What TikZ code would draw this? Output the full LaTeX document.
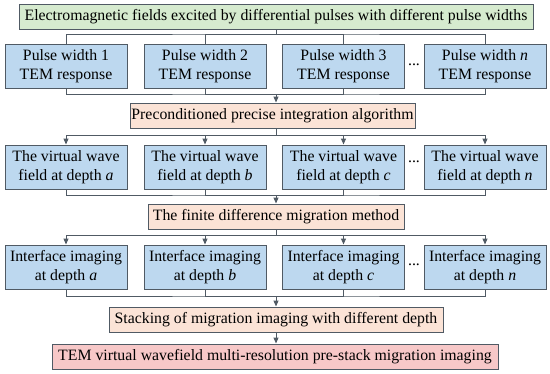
\documentclass[tikz,border=0pt]{standalone}
\usepackage{fontspec}
\setmainfont{Liberation Serif}
\usetikzlibrary{arrows.meta}
\definecolor{cgreen}{HTML}{D6EBCF}
\definecolor{cblue}{HTML}{BDD8EF}
\definecolor{cpink}{HTML}{FBE3D6}
\definecolor{cred}{HTML}{F7C8C8}
\definecolor{cline}{HTML}{505A64}
\begin{document}
\begin{tikzpicture}[x=1pt,y=-1pt,
  base/.style={draw=cline,line width=1pt,inner sep=0pt,align=center,
    font=\fontsize{15.8}{19}\selectfont,text=black},
  greenbox/.style={base,fill=cgreen,minimum width=514pt,minimum height=25pt},
  bluebox/.style={base,fill=cblue,minimum width=122pt,minimum height=44pt},
  pinkbox/.style={base,fill=cpink,minimum height=25pt},
  redbox/.style={base,fill=cred,minimum height=25pt},
  dotsnode/.style={inner sep=0pt,font=\fontsize{15.8}{19}\selectfont},
  conn/.style={draw=cline,line width=1pt},
  arr/.style={conn,-{Triangle[length=6pt,width=5pt]}}]
\useasboundingbox (0,0) rectangle (550,373);
% top
\node[greenbox] (g) at (276,16.5) {Electromagnetic fields excited by differential pulses with different pulse widths};
% row 1
\node[bluebox] (r1a) at (66,66) {Pulse width 1\\TEM response};
\node[bluebox] (r1b) at (205,66) {Pulse width 2\\TEM response};
\node[bluebox] (r1c) at (343.5,66) {Pulse width 3\\TEM response};
\node[bluebox] (r1d) at (485,66) {Pulse width \textit{n}\\TEM response};
\node[dotsnode] (d1) at (414,65) {...};
% pink 1
\node[pinkbox,minimum width=285pt] (p1) at (272.5,115.5) {Preconditioned precise integration algorithm};
% row 2
\node[bluebox] (r2a) at (66,167) {The virtual wave\\field at depth \textit{a}};
\node[bluebox] (r2b) at (205,167) {The virtual wave\\field at depth \textit{b}};
\node[bluebox] (r2c) at (343.5,167) {The virtual wave\\field at depth \textit{c}};
\node[bluebox] (r2d) at (485,167) {The virtual wave\\field at depth \textit{n}};
\node[dotsnode] (d2) at (414,162) {...};
% pink 2
\node[pinkbox,minimum width=256pt] (p2) at (276,216.5) {The finite difference migration method};
% row 3
\node[bluebox] (r3a) at (66,267) {Interface imaging\\at depth \textit{a}};
\node[bluebox] (r3b) at (205,267) {Interface imaging\\at depth \textit{b}};
\node[bluebox] (r3c) at (343.5,267) {Interface imaging\\at depth \textit{c}};
\node[bluebox] (r3d) at (485,267) {Interface imaging\\at depth \textit{n}};
\node[dotsnode] (d3) at (414,265) {...};
% pink 3
\node[pinkbox,minimum width=334pt] (p3) at (276,319.5) {Stacking of migration imaging with different depth};
% red
\node[redbox,minimum width=446pt] (rd) at (275,356.5) {TEM virtual wavefield multi-resolution pre-stack migration imaging};
% buses
\coordinate (b1) at (276,34);
\coordinate (b2) at (276,94);
\coordinate (b3) at (276,135);
\coordinate (b4) at (276,195);
\coordinate (b5) at (276,235);
\coordinate (b6) at (276,296);
% green -> row1
\draw[conn] (g.south -| b1) -- (b1);
\draw[conn] (r1a.north) |- (b1) -| (r1d.north);
\draw[conn] (r1b.north) |- (b1);
\draw[conn] (r1c.north) |- (b1);
% row1 -> p1
\draw[conn] (r1a.south) |- (b2) -| (r1d.south);
\draw[conn] (r1b.south) |- (b2);
\draw[conn] (r1c.south) |- (b2);
\draw[arr] (b2) -- (p1.north -| b2);
% p1 -> row2
\draw[conn] (p1.south -| b3) -- (b3);
\draw[conn] (r2a.north |- b3) -- (r2d.north |- b3);
\draw[arr] (b3 -| r2a.north) -- (r2a.north);
\draw[arr] (b3 -| r2b.north) -- (r2b.north);
\draw[arr] (b3 -| r2c.north) -- (r2c.north);
\draw[arr] (b3 -| r2d.north) -- (r2d.north);
% row2 -> p2
\draw[conn] (r2a.south) |- (b4) -| (r2d.south);
\draw[conn] (r2b.south) |- (b4);
\draw[conn] (r2c.south) |- (b4);
\draw[arr] (b4) -- (p2.north -| b4);
% p2 -> row3
\draw[conn] (p2.south -| b5) -- (b5);
\draw[conn] (r3a.north |- b5) -- (r3d.north |- b5);
\draw[arr] (b5 -| r3a.north) -- (r3a.north);
\draw[arr] (b5 -| r3b.north) -- (r3b.north);
\draw[arr] (b5 -| r3c.north) -- (r3c.north);
\draw[arr] (b5 -| r3d.north) -- (r3d.north);
% row3 -> p3
\draw[conn] (r3a.south) |- (b6) -| (r3d.south);
\draw[conn] (r3b.south) |- (b6);
\draw[conn] (r3c.south) |- (b6);
\draw[arr] (b6) -- (p3.north -| b6);
% p3 -> red
\draw[arr] (p3.south -| b6) -- (rd.north -| b6);
\end{tikzpicture}
\end{document}
